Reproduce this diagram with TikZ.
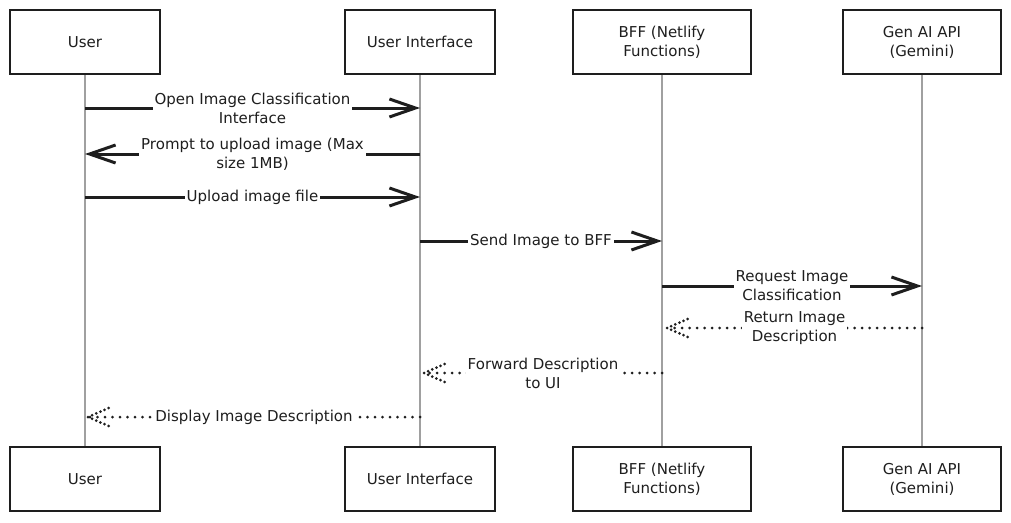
\documentclass[tikz,border=0pt]{standalone}
\usepackage{fontspec}
\setmainfont{DejaVu Sans}
\usetikzlibrary{shapes,arrows.meta,decorations.markings}
\definecolor{ink}{HTML}{1E1E1E}
\definecolor{lifegray}{HTML}{A0A0A0}
\tikzstyle{actor} = [rectangle, draw=ink, line width=2pt, fill=white, text=ink,
align=center, minimum width=150pt, minimum height=64pt]
\tikzstyle{life} = [draw=lifegray, line width=1.3pt]
\tikzstyle{msg} = [draw=ink, line width=3pt, -{Straight Barb[length=26pt,width=18pt]}]
\tikzstyle{reply} = [draw=ink, line width=3pt, line cap=round, dash pattern=on 0pt off 7.5pt,
postaction={decorate}, decoration={markings, mark=at position 1 with
{\draw[ink, line width=3pt, line cap=round, dash pattern=on 0pt off 4.5pt] (0,0) -- (-23pt,10pt) (0,0) -- (-23pt,-10pt);}}]
\tikzstyle{lbl} = [fill=white, text=ink, align=center, inner sep=2pt]

\begin{document}
\begin{tikzpicture}[x=1pt,y=-1pt]
\fontsize{15}{19}\selectfont
 \useasboundingbox (0,0) rectangle (1011,522);
 % participants, top row
 \node [actor] (userT) at (85,42) {User};
 \node [actor,right of=userT, node distance=335pt] (uiT) {User Interface};
 \node [actor,right of=uiT, node distance=242pt, minimum width=178pt] (bffT) {BFF (Netlify\\Functions)};
 \node [actor,right of=bffT, node distance=260pt, minimum width=158pt] (genT) {Gen AI API\\(Gemini)};
 % participants, bottom row
 \node [actor,below of=userT, node distance=437pt] (userB) {User};
 \node [actor,below of=uiT, node distance=437pt] (uiB) {User Interface};
 \node [actor,below of=bffT, node distance=437pt, minimum width=178pt] (bffB) {BFF (Netlify\\Functions)};
 \node [actor,below of=genT, node distance=437pt, minimum width=158pt] (genB) {Gen AI API\\(Gemini)};
 % lifelines
 \foreach \p in {user,ui,bff,gen}
   \path [life] (\p T) -- (\p B);
 \foreach \p in {user,ui,bff,gen}
   \foreach \k/\y in {1/108,2/154,3/197,4/241,5/286,6/328,7/373,8/417}
     \coordinate (\p\k) at (\p T.south |- 0,\y);
 % reply tips stop just short of the lifeline
 \coordinate (bff6r) at ([xshift=5pt]bff6);
 \coordinate (ui7r) at ([xshift=4pt]ui7);
 \coordinate (user8r) at ([xshift=3pt]user8);
 % messages
 \path [msg] (user1) -- node[lbl] {Open Image Classification\\Interface} (ui1);
 \path [msg] (ui2) -- node[lbl] {Prompt to upload image (Max\\size 1MB)} (user2);
 \path [msg] (user3) -- node[lbl] {Upload image file} (ui3);
 \path [msg] (ui4) -- node[lbl] {Send Image to BFF} (bff4);
 \path [msg] (bff5) -- node[lbl] {Request Image\\Classification} (gen5);
 \path [reply] (gen6) -- node[lbl] {Return Image\\Description} (bff6r);
 \path [reply] (bff7) -- node[lbl] {Forward Description\\to UI} (ui7r);
 \path [reply] (ui8) -- node[lbl] {Display Image Description} (user8r);
\end{tikzpicture}
\end{document}
